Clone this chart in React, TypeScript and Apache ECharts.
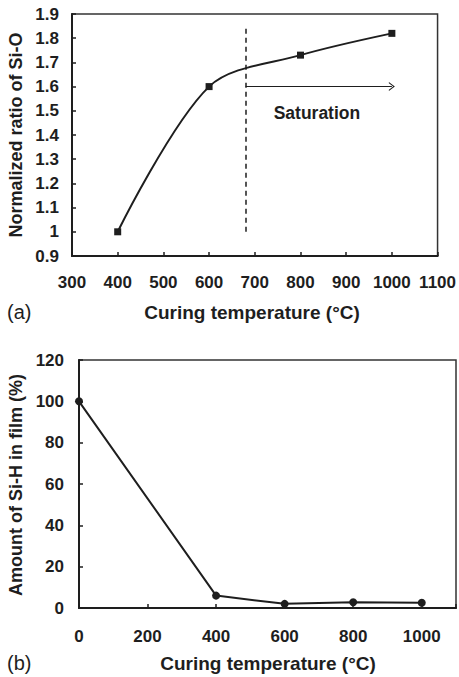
import React, { useEffect, useRef } from "react";
import * as echarts from "echarts";

// Panel (a): normalized Si-O ratio vs curing temperature
const tempA = [400, 600, 800, 1000];
const ratioSiO = [1.0, 1.6, 1.73, 1.82];
const xTicksA = { min: 300, max: 1100, interval: 100 };
const yTicksA = { min: 0.9, max: 1.9, interval: 0.1 };
const saturationX = 680;
const saturationLineY = [1.0, 1.84];
const arrowY = 1.6;
const arrowEndX = 1000;
const saturationLabelPos = [836, 1.49];

// Panel (b): amount of Si-H in film vs curing temperature
const tempB = [0, 400, 600, 800, 1000];
const siH = [100, 6, 2, 2.8, 2.5];
const xTicksB = { min: 0, max: 1100, interval: 200 };
const yTicksB = { min: 0, max: 120, interval: 20 };

const FONT = 'Arial, "Liberation Sans", sans-serif';
const INK = "#1e1e1e";

export default function App() {
  const ref = useRef<HTMLDivElement>(null);
  useEffect(() => {
    if (!ref.current) return;
    const chart = echarts.init(ref.current, undefined, { renderer: "svg" });
    const axisCommon = {
      axisLine: { show: true, lineStyle: { color: INK, width: 2 } },
      axisTick: { show: true, inside: true, length: 4, lineStyle: { color: INK, width: 1.5 } },
      splitLine: { show: false },
    };
    const labelStyle = { color: INK, fontFamily: FONT, fontWeight: "bold" as const, fontSize: 17 };
    chart.setOption({
      animation: false,
      backgroundColor: "#ffffff",
      grid: [
        { left: 72, right: 18, top: 14, height: 242, show: true, borderColor: "#333", borderWidth: 1.5, containLabel: false },
        { left: 79, right: 3, top: 360, height: 248, show: true, borderColor: "#333", borderWidth: 1.5, containLabel: false },
      ],
      xAxis: [
        {
          type: "value", gridIndex: 0, ...xTicksA, ...axisCommon,
          axisLabel: { ...labelStyle, margin: 18, formatter: (v: number) => String(v) },
        },
        {
          type: "value", gridIndex: 1, ...xTicksB, ...axisCommon,
          axisLabel: { ...labelStyle, margin: 20, formatter: (v: number) => (v > 1000 ? "" : String(v)) },
        },
      ],
      yAxis: [
        {
          type: "value", gridIndex: 0, ...yTicksA, ...axisCommon,
          axisLabel: { ...labelStyle, margin: 13, formatter: (v: number) => String(+v.toFixed(1)) },
        },
        {
          type: "value", gridIndex: 1, ...yTicksB, ...axisCommon,
          axisLabel: { ...labelStyle, margin: 15, formatter: (v: number) => String(v) },
        },
      ],
      series: [
        {
          type: "line", xAxisIndex: 0, yAxisIndex: 0,
          data: tempA.map((t, i) => [t, ratioSiO[i]]),
          smooth: 0.32,
          symbol: "rect", symbolSize: 7,
          lineStyle: { color: INK, width: 2 },
          itemStyle: { color: INK },
          markLine: {
            silent: true,
            animation: false,
            label: { show: false },
            data: [
              [
                { coord: [saturationX, saturationLineY[0]], symbol: "none", lineStyle: { type: [5, 4], color: INK, width: 1.5 } },
                { coord: [saturationX, saturationLineY[1]], symbol: "none" },
              ],
              [
                { coord: [saturationX, arrowY], symbol: "none", lineStyle: { type: "solid", color: INK, width: 1.2 } },
                {
                  coord: [arrowEndX, arrowY],
                  symbol: "path://M5,0 L10,10 L8.6,10 L5,2.8 L1.4,10 L0,10 Z",
                  symbolSize: [9, 6],
                },
              ],
            ],
          },
          markPoint: {
            silent: true,
            data: [
              {
                coord: saturationLabelPos,
                symbol: "rect",
                symbolSize: 0,
                label: {
                  show: true, position: "inside", formatter: "Saturation",
                  color: INK, fontFamily: FONT, fontWeight: "bold", fontSize: 17.5,
                },
              },
            ],
          },
        },
        {
          type: "line", xAxisIndex: 1, yAxisIndex: 1,
          data: tempB.map((t, i) => [t, siH[i]]),
          symbol: "circle", symbolSize: 8,
          lineStyle: { color: INK, width: 2 },
          itemStyle: { color: INK },
        },
      ],
      graphic: [
        { type: "text", x: 16, y: 135, rotation: Math.PI / 2, style: { text: "Normalized ratio of Si-O", font: `bold 18px ${FONT}`, fill: INK, textAlign: "center", textVerticalAlign: "middle" } },
        { type: "text", x: 252, y: 312, style: { text: "Curing temperature (°C)", font: `bold 19px ${FONT}`, fill: INK, textAlign: "center", textVerticalAlign: "middle" } },
        { type: "text", x: 7, y: 312, style: { text: "(a)", font: `20px ${FONT}`, fill: INK, textAlign: "left", textVerticalAlign: "middle" } },
        { type: "text", x: 16, y: 485, rotation: Math.PI / 2, style: { text: "Amount of Si-H in film (%)", font: `bold 18px ${FONT}`, fill: INK, textAlign: "center", textVerticalAlign: "middle" } },
        { type: "text", x: 268, y: 663, style: { text: "Curing temperature (°C)", font: `bold 19px ${FONT}`, fill: INK, textAlign: "center", textVerticalAlign: "middle" } },
        { type: "text", x: 7, y: 663, style: { text: "(b)", font: `20px ${FONT}`, fill: INK, textAlign: "left", textVerticalAlign: "middle" } },
      ],
    });
    return () => chart.dispose();
  }, []);
  return <div ref={ref} style={{ position: "fixed", left: 0, top: 0, width: 459, height: 677, background: "#fff" }} />;
}
